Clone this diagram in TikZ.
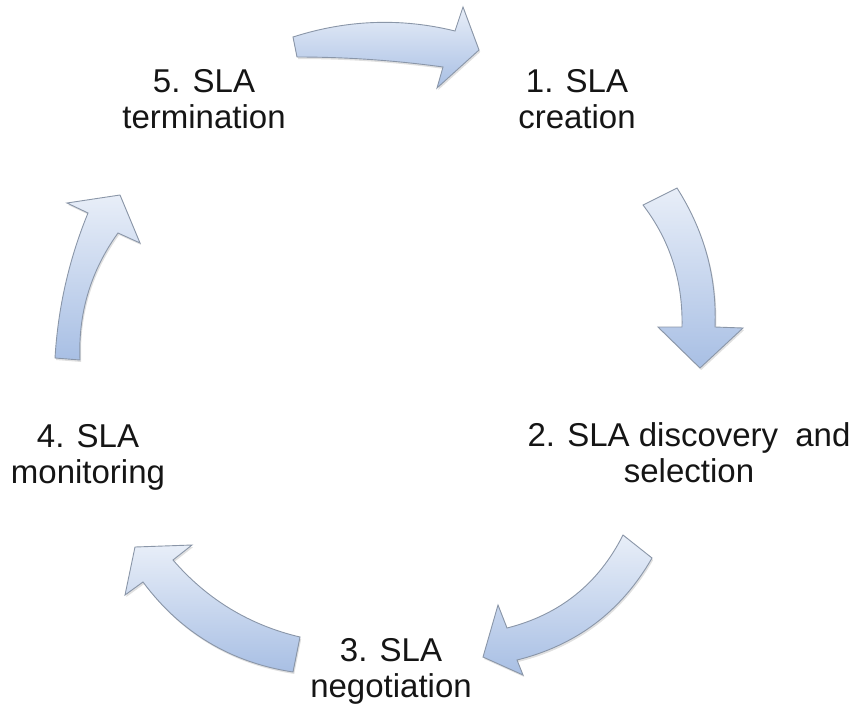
\documentclass[tikz,border=0pt]{standalone}
\usepackage{fontspec}
\setmainfont{Liberation Sans}
\definecolor{arrowtop}{HTML}{E8EEF8}
\definecolor{arrowbottom}{HTML}{A8BFE4}
\definecolor{arrowedge}{HTML}{8A96A8}
\definecolor{labeltext}{HTML}{151515}
\begin{document}
\begin{tikzpicture}[x=1pt,y=-1pt,
  cyclearrow/.style={draw=arrowedge, line width=0.9pt, line join=miter,
    top color=arrowtop, bottom color=arrowbottom,
    preaction={fill=black, fill opacity=0.12,
      transform canvas={xshift=1.2pt,yshift=-2pt}}},
  stage/.style={align=center, font=\fontsize{33}{36}\selectfont,
    text=labeltext, inner sep=0pt, anchor=base}]
\useasboundingbox (0,0) rectangle (859,710);

% stage labels (anchored at the baseline of their last line)
\node[stage] (s1) at (577,128) {1. SLA\\creation};
\node[stage] (s2) at (689,482) {2. SLA discovery\hspace{8pt} and\\selection};
\node[stage] (s3) at (391,697) {3. SLA\\negotiation};
\node[stage] (s4) at (88,483) {4. SLA\\monitoring};
\node[stage] (s5) at (204,128) {5. SLA\\termination};

% 5 -> 1 (top)
\path[cyclearrow] (293,37) .. controls (347,19.7) and (401,17.7) .. (455,31)
  -- (463,7) -- (479,50) -- (437,88) -- (443,67)
  .. controls (394.3,60.3) and (345.7,57) .. (297,57) -- cycle;

% 1 -> 2 (right)
\path[cyclearrow] (677,188) .. controls (704.3,231) and (717,277.3) .. (715,327)
  -- (743,328) -- (700,368) -- (658,327) -- (682,327)
  .. controls (683,281) and (670,240.3) .. (643,205) -- cycle;

% 2 -> 3 (lower right)
\path[cyclearrow] (652,558) .. controls (621.5,611.2) and (576.5,645.2) .. (517,660)
  -- (523,675) -- (483,657) -- (498,605) -- (507,628)
  .. controls (559.8,614.7) and (598.5,583.7) .. (623,535) -- cycle;

% 3 -> 4 (lower left)
\path[cyclearrow] (293,672) .. controls (230.6,662.5) and (180.6,632.5) .. (143,582)
  -- (125,595) -- (135,547) -- (192,545) -- (173,560)
  .. controls (207.1,599.4) and (249.4,625.1) .. (300,637) -- cycle;

% 4 -> 5 (left)
\path[cyclearrow] (80,360) .. controls (78,313.3) and (90.7,270.9) .. (118,233)
  -- (140,243) -- (120,195) -- (67,203) -- (88,213)
  .. controls (69,259.3) and (58,307.7) .. (55,358) -- cycle;
\end{tikzpicture}
\end{document}
